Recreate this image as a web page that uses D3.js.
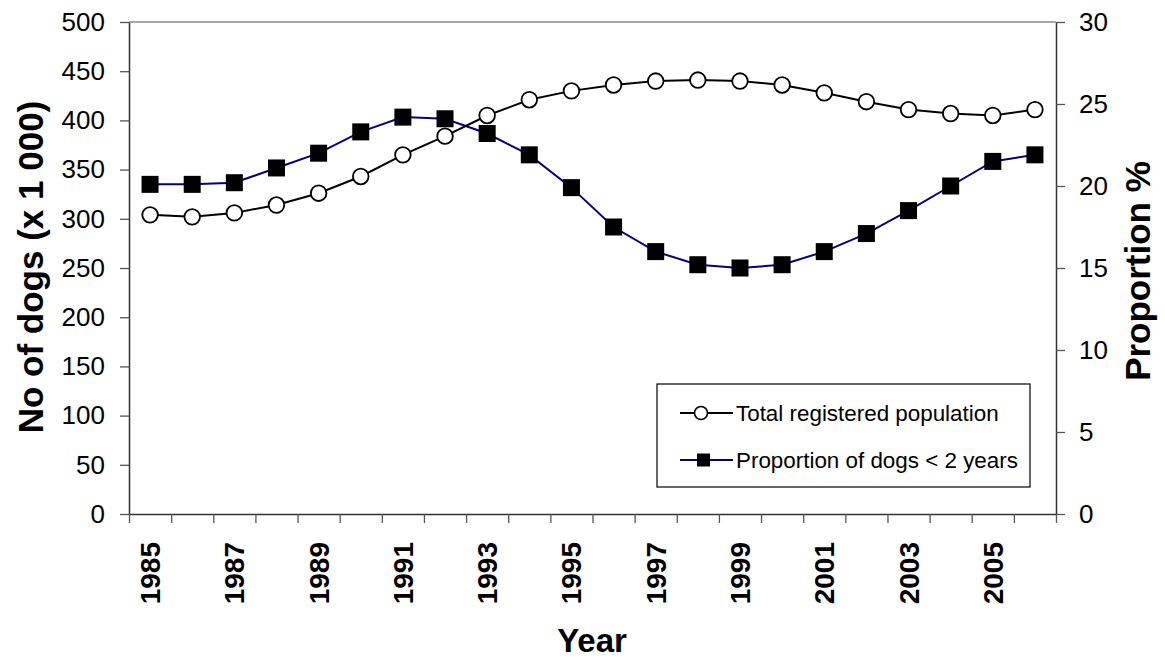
<!DOCTYPE html>
<html>
<head>
<meta charset="utf-8">
<script src="https://cdn.jsdelivr.net/npm/d3@7"></script>
<style>
  body { margin: 0; background: #fff; }
  svg { display: block; font-family: 'Liberation Sans', Arial, sans-serif; }
</style>
</head>
<body>
<svg width="1165" height="659"></svg>
<script>
const years = [1985, 1986, 1987, 1988, 1989, 1990, 1991, 1992, 1993, 1994, 1995,
  1996, 1997, 1998, 1999, 2000, 2001, 2002, 2003, 2004, 2005, 2006]
const population = [304, 302, 306, 314, 326, 343, 365, 384, 405, 421, 430,
  436, 440, 441, 440, 436, 428, 419, 411, 407, 405, 411]
const proportion = [20.1, 20.1, 20.2, 21.1, 22.0, 23.3, 24.2, 24.1, 23.2, 21.9, 19.9,
  17.5, 16.0, 15.2, 15.0, 15.2, 16.0, 17.1, 18.5, 20.0, 21.5, 21.9]
const leftTicks = [0, 50, 100, 150, 200, 250, 300, 350, 400, 450, 500]
const rightTicks = [0, 5, 10, 15, 20, 25, 30]
const yearLabels = years.filter(y => y % 2 === 1)
const seriesNames = ['Total registered population', 'Proportion of dogs < 2 years']

const margin = { top: 22, right: 109, bottom: 145, left: 129 }
const width = 1165
const height = 659
const innerRight = width - margin.right
const innerBottom = height - margin.bottom

const svg = d3.select('svg')

// scales
const xScale = d3.scaleBand()
  .domain(years)
  .range([margin.left, innerRight])
  .padding(0)

const xEdge = d3.scaleLinear()
  .domain([0, years.length])
  .range([margin.left, innerRight])

const yLeft = d3.scaleLinear()
  .domain([0, 500])
  .range([innerBottom, margin.top])

const yRight = d3.scaleLinear()
  .domain([0, 30])
  .range([innerBottom, margin.top])

const cx = d => xScale(d) + xScale.bandwidth() / 2

// plot area top border
svg.append('line')
  .attr('x1', margin.left).attr('x2', innerRight)
  .attr('y1', margin.top).attr('y2', margin.top)
  .attr('stroke', '#8a8a8a')
  .attr('stroke-width', 1.5)

// left axis
const gLeft = svg.append('g')
  .attr('transform', `translate(${margin.left},0)`)
  .call(d3.axisLeft(yLeft).tickValues(leftTicks).tickSize(9).tickPadding(15).tickSizeOuter(0))
gLeft.selectAll('text').attr('font-size', 26).attr('fill', '#000')

// right axis
const gRight = svg.append('g')
  .attr('transform', `translate(${innerRight},0)`)
  .call(d3.axisRight(yRight).tickValues(rightTicks).tickSize(9).tickPadding(14).tickSizeOuter(0))
gRight.selectAll('text').attr('font-size', 26).attr('fill', '#000')

// bottom axis: ticks at category edges
svg.append('g')
  .attr('transform', `translate(0,${innerBottom})`)
  .call(d3.axisBottom(xEdge).tickValues(d3.range(years.length + 1)).tickFormat('').tickSize(9).tickSizeOuter(0))

// bottom labels every other year
const gX = svg.append('g')
  .attr('transform', `translate(0,${innerBottom})`)
  .call(d3.axisBottom(xScale).tickValues(yearLabels).tickSize(0))
gX.select('.domain').remove()
gX.selectAll('text')
  .attr('font-size', 28)
  .attr('font-weight', 'bold')
  .attr('fill', '#000')
  .attr('text-anchor', 'end')
  .attr('transform', 'rotate(-90)')
  .attr('x', -28)
  .attr('y', 10)
  .attr('dy', 0)

svg.selectAll('.domain').attr('stroke', '#333').attr('stroke-width', 1.5)
svg.selectAll('.tick line').attr('stroke', '#555').attr('stroke-width', 1.3)

// axis titles
svg.append('text')
  .attr('transform', 'translate(43,267) rotate(-90)')
  .attr('text-anchor', 'middle')
  .attr('font-size', 35)
  .attr('font-weight', 'bold')
  .text('No of dogs (x 1 000)')

svg.append('text')
  .attr('transform', 'translate(1150,271) rotate(-90)')
  .attr('text-anchor', 'middle')
  .attr('font-size', 35)
  .attr('font-weight', 'bold')
  .text('Proportion %')

svg.append('text')
  .attr('x', 592)
  .attr('y', 652)
  .attr('text-anchor', 'middle')
  .attr('font-size', 33)
  .attr('font-weight', 'bold')
  .text('Year')

// lines
const popLine = d3.line()
  .x((d, i) => cx(years[i]))
  .y(d => yLeft(d))

const propLine = d3.line()
  .x((d, i) => cx(years[i]))
  .y(d => yRight(d))

svg.append('path')
  .datum(proportion)
  .attr('d', propLine)
  .attr('fill', 'none')
  .attr('stroke', '#000080')
  .attr('stroke-width', 2)

svg.append('path')
  .datum(population)
  .attr('d', popLine)
  .attr('fill', 'none')
  .attr('stroke', '#000')
  .attr('stroke-width', 2)

// markers
const sq = 17
svg.append('g')
  .selectAll('rect')
  .data(proportion)
  .enter().append('rect')
  .attr('x', (d, i) => cx(years[i]) - sq / 2)
  .attr('y', d => yRight(d) - sq / 2)
  .attr('width', sq)
  .attr('height', sq)
  .attr('fill', '#000')

svg.append('g')
  .selectAll('circle')
  .data(population)
  .enter().append('circle')
  .attr('cx', (d, i) => cx(years[i]))
  .attr('cy', d => yLeft(d))
  .attr('r', 7.8)
  .attr('fill', '#fff')
  .attr('stroke', '#000')
  .attr('stroke-width', 1.8)

// legend
const legend = svg.append('g')
  .attr('transform', 'translate(657,384)')

legend.append('rect')
  .attr('width', 373)
  .attr('height', 103)
  .attr('fill', '#fff')
  .attr('stroke', '#000')
  .attr('stroke-width', 1.2)

const rows = legend.selectAll('.row')
  .data(seriesNames)
  .enter().append('g')
  .attr('class', 'row')
  .attr('transform', (d, i) => `translate(0,${29 + i * 47})`)

rows.append('line')
  .attr('x1', 23).attr('x2', 76)
  .attr('stroke', (d, i) => i === 0 ? '#000' : '#000080')
  .attr('stroke-width', 2)

rows.filter((d, i) => i === 0).append('circle')
  .attr('cx', 44).attr('r', 6.5)
  .attr('fill', '#fff').attr('stroke', '#000').attr('stroke-width', 1.6)

rows.filter((d, i) => i === 1).append('rect')
  .attr('x', 40).attr('y', -6.5)
  .attr('width', 13).attr('height', 13)
  .attr('fill', '#000')

rows.append('text')
  .attr('x', 79)
  .attr('dy', '0.35em')
  .attr('font-size', 22.4)
  .text(d => d)
</script>
</body>
</html>
